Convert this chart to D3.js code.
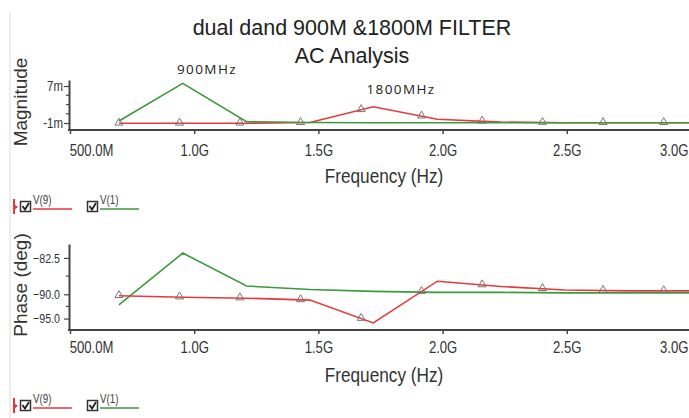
<!DOCTYPE html>
<html>
<head>
<meta charset="utf-8">
<script src="https://cdn.jsdelivr.net/npm/d3@7"></script>
<style>
  body { margin: 0; background: #fff; }
  svg { display: block; }
  text { font-family: "Liberation Sans", Arial, sans-serif; }
</style>
</head>
<body>
<svg id="chart" width="689" height="418"></svg>
<script>
// sweep points (GHz) and trace values
const freqs = [0.697, 0.954, 1.211, 1.466, 1.721, 1.979, 2.235, 2.491, 2.747, 3.003];
const magV9 = [-1.06, -1.06, -1.04, -0.90, 2.52, -0.20, -0.80, -0.94, -0.94, -0.94];
const magV1 = [-0.57, 7.58, -0.72, -0.90, -0.94, -0.94, -0.94, -0.94, -0.94, -0.94];
const phaseV9 = [-90.3, -90.6, -90.8, -91.2, -95.9, -87.3, -88.4, -89.1, -89.3, -89.3];
const phaseV1 = [-92.2, -81.5, -88.3, -89.0, -89.4, -89.6, -89.6, -89.7, -89.7, -89.7];
const markerFreqs = [0.697, 0.941, 1.184, 1.428, 1.672, 1.915, 2.159, 2.402, 2.646, 2.890];
const xTicks = [0.5, 1.0, 1.5, 2.0, 2.5, 3.0];
const magTicks = [7, -1];
const magMinor = [1, 3, 5];
const phaseTicks = [-82.5, -90.0, -95.0];
const phaseMinor = [-86.25, -92.5];
const legend = [{name: "V(9)", color: "#e8383c"}, {name: "V(1)", color: "#3c9a3c"}];

const svg = d3.select("#chart");
const RED = "#e8383c", GREEN = "#3c9a3c", AXIS = "#444";
const NARROW = 0.82; // the plot text is a condensed face

const x = d3.scaleLinear().domain([0.5, 3.0]).range([70, 691]);

function interp(xs, ys, f) {
    for (let i = 0; i < xs.length - 1; i++) {
        if (f >= xs[i] && f <= xs[i + 1]) {
            const t = (f - xs[i]) / (xs[i + 1] - xs[i]);
            return ys[i] + t * (ys[i + 1] - ys[i]);
        }
    }
    return ys[ys.length - 1];
}

// faint left border
svg.append("line").attr("x1", 10).attr("x2", 10).attr("y1", 12).attr("y2", 418)
    .attr("stroke", "#ddd").attr("stroke-width", 1);

// title
svg.append("text").attr("x", 352).attr("y", 35).attr("text-anchor", "middle")
    .style("font-size", "21.5px").attr("fill", "#222")
    .text("dual dand 900M &1800M FILTER");
svg.append("text").attr("x", 352).attr("y", 63).attr("text-anchor", "middle")
    .style("font-size", "21.5px").attr("fill", "#222")
    .text("AC Analysis");

function panel(cfg) {
    const y = d3.scaleLinear().domain(cfg.domain).range([cfg.bottom, cfg.top]);
    const g = svg.append("g");

    // x axis
    const xa = g.append("g").attr("transform", `translate(0,${cfg.bottom})`)
        .call(d3.axisBottom(x).tickValues(xTicks).tickSize(4).tickSizeOuter(0)
            .tickFormat(d => d === 0.5 ? "500.0M" : d.toFixed(1) + "G"));
    xa.select(".domain").attr("stroke", AXIS).attr("stroke-width", 2)
        .attr("d", `M${x(0.5) - 2},0H700`);
    xa.selectAll(".tick line").attr("stroke", AXIS).attr("stroke-width", 1.5);
    xa.selectAll(".tick text").attr("y", cfg.xLabelDy).attr("dy", 0)
        .style("font-size", "16px").attr("fill", "#333")
        .attr("text-anchor", d => d === 0.5 ? "start" : d === 3.0 ? "end" : "middle")
        .attr("x", d => d === 0.5 ? -1 : d === 3.0 ? -3 / NARROW : 0)
        .attr("transform", `scale(${NARROW},1)`);

    // y axis
    const ya = g.append("g").attr("transform", `translate(${x(0.5) - 1},0)`)
        .call(d3.axisLeft(y).tickValues(cfg.ticks).tickSize(5).tickSizeOuter(0)
            .tickFormat(cfg.fmt));
    ya.select(".domain").attr("stroke", AXIS).attr("stroke-width", 2);
    ya.selectAll(".tick line").attr("stroke", AXIS).attr("stroke-width", 1.2);
    ya.selectAll(".tick text").style("font-size", cfg.yFont).attr("fill", "#333")
        .attr("x", -(5 + cfg.tickPad) / NARROW).attr("transform", `scale(${NARROW},1)`);
    ya.selectAll(".minor").data(cfg.minor).join("line").attr("class", "minor")
        .attr("x1", -3).attr("x2", 0).attr("y1", d => y(d)).attr("y2", d => y(d))
        .attr("stroke", AXIS).attr("stroke-width", 1.2);

    // axis titles
    g.append("text").attr("transform", `translate(384,${cfg.bottom + cfg.freqDy}) scale(${NARROW},1)`)
        .attr("text-anchor", "middle").style("font-size", "21px").attr("fill", "#333")
        .text("Frequency (Hz)");
    g.append("text").attr("transform", `translate(27,${cfg.labelY}) rotate(-90)`)
        .attr("text-anchor", "middle").style("font-size", "19px").attr("fill", "#333")
        .text(cfg.label);

    const line = d3.line().x((d, i) => x(freqs[i])).y(d => y(d));
    cfg.series.forEach(s => {
        g.append("path").datum(s.values).attr("d", line).attr("fill", "none")
            .attr("stroke", s.color).attr("stroke-width", 1.6);
    });

    // trace markers on V(9)
    g.selectAll(".mk").data(markerFreqs).join("path").attr("class", "mk")
        .attr("transform", f => `translate(${x(f)},${y(interp(freqs, cfg.markerTrace, f)) - 0.5})`)
        .attr("d", d3.symbol().type(d3.symbolTriangle).size(28))
        .attr("fill", "none").attr("stroke", "#777").attr("stroke-width", 1);

    // legend
    const lg = g.append("g").attr("transform", `translate(0,${cfg.legendY})`);
    lg.append("line").attr("x1", 14).attr("x2", 14).attr("y1", -9).attr("y2", 6)
        .attr("stroke", RED).attr("stroke-width", 2);
    lg.append("path").attr("d", "M14,-4L18,-1L14,2Z").attr("fill", RED);
    legend.forEach((l, i) => {
        const ox = 20 + i * 67;
        lg.append("rect").attr("x", ox + 0.5).attr("y", -6.5).attr("width", 10).attr("height", 10)
            .attr("fill", "#fff").attr("stroke", "#333").attr("stroke-width", 1.5);
        lg.append("path").attr("d", `M${ox + 2.5},${-2}L${ox + 5},${1.5}L${ox + 9},${-5}`)
            .attr("fill", "none").attr("stroke", "#222").attr("stroke-width", 1.8);
        lg.append("text").attr("transform", `translate(${ox + 13},-4) scale(${NARROW},1)`)
            .style("font-size", "12px").attr("fill", "#444").text(l.name);
        lg.append("line").attr("x1", ox + 13).attr("x2", ox + 52).attr("y1", 1).attr("y2", 1)
            .attr("stroke", l.color).attr("stroke-width", 1.5);
    });
}

panel({
    domain: [-2.51, 8.30], top: 80, bottom: 130,
    ticks: magTicks, minor: magMinor, fmt: d => d + "m", tickPad: 1, yFont: "14px",
    xLabelDy: 26.5, freqDy: 53, label: "Magnitude", labelY: 102, legendY: 208,
    series: [{values: magV9, color: RED}, {values: magV1, color: GREEN}],
    markerTrace: magV9
});

panel({
    domain: [-97.36, -79.63], top: 244, bottom: 330,
    ticks: phaseTicks, minor: phaseMinor, fmt: d3.format(".1f"), tickPad: 4, yFont: "13px",
    xLabelDy: 23, freqDy: 51.5, label: "Phase (deg)", labelY: 285, legendY: 407,
    series: [{values: phaseV1, color: GREEN}, {values: phaseV9, color: RED}],
    markerTrace: phaseV9
});

// annotations
svg.append("text").attr("x", 207).attr("y", 74).attr("text-anchor", "middle")
    .style("font-family", "Open Sans, sans-serif").style("font-size", "13.5px")
    .style("letter-spacing", "1.4px").attr("fill", "#222").text("900MHz");
svg.append("text").attr("x", 401).attr("y", 94).attr("text-anchor", "middle")
    .style("font-family", "Open Sans, sans-serif").style("font-size", "13.5px")
    .style("letter-spacing", "1.4px").attr("fill", "#222").text("1800MHz");
</script>
</body>
</html>
